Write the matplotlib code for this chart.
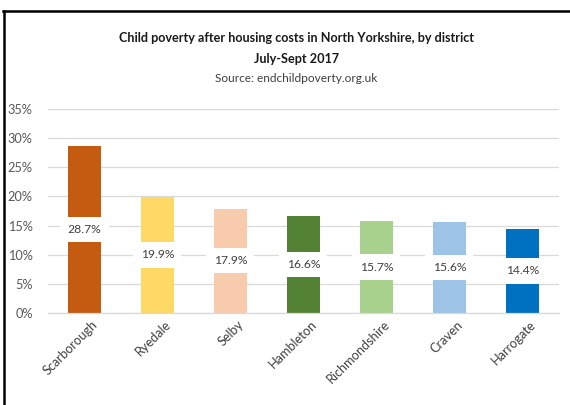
import matplotlib
matplotlib.use("Agg")
import matplotlib.pyplot as plt
from matplotlib.lines import Line2D
from matplotlib.ticker import FuncFormatter, MultipleLocator
from matplotlib.transforms import ScaledTranslation

districts = ["Scarborough", "Ryedale", "Selby", "Hambleton",
             "Richmondshire", "Craven", "Harrogate"]
poverty_pct = [28.7, 19.9, 17.9, 16.6, 15.7, 15.6, 14.4]
bar_colors = ["#C55A11", "#FFD966", "#F8CBAD", "#548235",
              "#A9D18E", "#9DC3E6", "#0070C0"]

title_line1 = "Child poverty after housing costs in North Yorkshire, by district"
title_line2 = "July-Sept 2017"
source_text = "Source: endchildpoverty.org.uk"

plt.rcParams["font.family"] = ["Lato", "DejaVu Sans"]

fig = plt.figure(figsize=(5.7, 4.05), dpi=100)
ax = fig.add_axes([0.0842, 0.2279, 0.8965, 0.5023])

x = range(len(districts))
bars = ax.bar(x, poverty_pct, width=0.465, color=bar_colors, zorder=2)

# value labels centred in each bar on a white box
for b, v in zip(bars, poverty_pct):
    ax.text(b.get_x() + b.get_width() / 2, v / 2, f"{v}%",
            ha="center", va="center", fontsize=8.7, color="#404040",
            zorder=3,
            bbox=dict(boxstyle="square,pad=0.6", fc="white", ec="none"))

ax.set_xlim(-0.5, len(districts) - 0.5)
ax.set_ylim(0, 35)
ax.yaxis.set_major_locator(MultipleLocator(5))
ax.yaxis.set_major_formatter(FuncFormatter(lambda v, p: f"{v:.0f}%"))
ax.grid(axis="y", color="#D9D9D9", linewidth=0.9, zorder=0)
ax.set_axisbelow(True)

for s in ["top", "right", "left"]:
    ax.spines[s].set_visible(False)
ax.spines["bottom"].set_color("#D9D9D9")
ax.spines["bottom"].set_linewidth(0.9)

ax.tick_params(axis="y", length=0, labelsize=9.2, labelcolor="#595959", pad=11)
ax.tick_params(axis="x", length=0, labelsize=9.2, labelcolor="#404040", pad=4)
ax.set_xticks(list(x))
ax.set_xticklabels(districts, rotation=45, ha="right", va="top",
                   rotation_mode="anchor")
shift = ScaledTranslation(5 / 72, 0, fig.dpi_scale_trans)
for lbl in ax.get_xticklabels():
    lbl.set_transform(lbl.get_transform() + shift)

fig.text(0.52, 0.906, title_line1, ha="center", va="center",
         fontsize=9.1, fontweight="bold", color="#1a1a1a")
fig.text(0.52, 0.855, title_line2, ha="center", va="center",
         fontsize=9.1, fontweight="bold", color="#1a1a1a")
fig.text(0.52, 0.806, source_text, ha="center", va="center",
         fontsize=8.6, color="#404040")

# frame lines along the top and left edges
fig.add_artist(Line2D([3 / 570, 1.0], [1 - 11 / 405, 1 - 11 / 405],
                      transform=fig.transFigure, color="black", linewidth=1.8))
fig.add_artist(Line2D([4 / 570, 4 / 570], [0, 1 - 11 / 405],
                      transform=fig.transFigure, color="black", linewidth=1.8))

fig.savefig("out.png", dpi=100)
